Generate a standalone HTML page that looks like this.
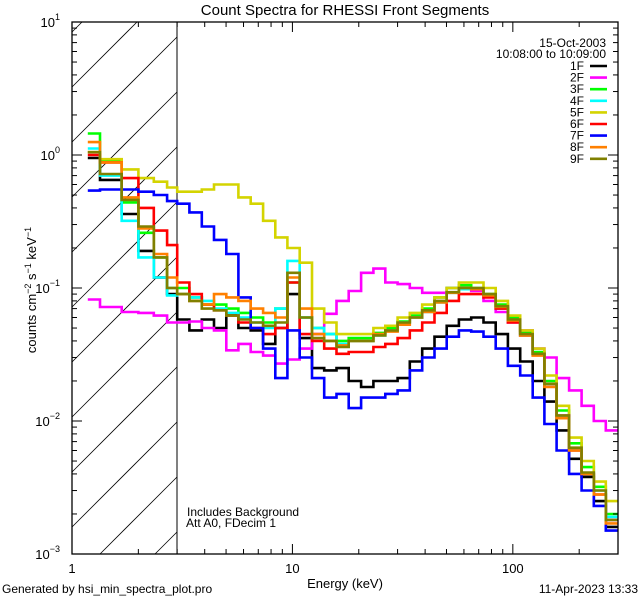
<!DOCTYPE html>
<html><head><meta charset="utf-8"><style>
html,body{margin:0;padding:0;background:#fff;width:640px;height:600px;overflow:hidden}
svg{display:block;position:absolute;left:0;top:0;font-family:"Liberation Sans",sans-serif}
</style></head><body>
<svg id="chart" width="640" height="600" viewBox="0 0 640 600">
<rect width="640" height="600" fill="#fff"/>
<defs><clipPath id="pclip"><rect x="72" y="22" width="546" height="532"/></clipPath></defs>
<g id="hatch"></g>
<line x1="177" y1="22" x2="177" y2="554" stroke="#000" stroke-width="1"/>
<g id="series" clip-path="url(#pclip)"></g>
<rect x="72" y="22" width="546" height="532" fill="none" stroke="#000" stroke-width="1.3"/>
<g id="axes"></g>
<text x="345" y="15" font-size="15" text-anchor="middle">Count Spectra for RHESSI Front Segments</text>
<text x="606" y="47" font-size="12" text-anchor="end">15-Oct-2003</text>
<text x="606" y="58" font-size="12" text-anchor="end">10:08:00 to 10:09:00</text>
<g id="legend"></g>
<text x="187" y="516" font-size="12">Includes Background</text>
<text x="186" y="527" font-size="12">Att A0, FDecim 1</text>
<text x="345" y="588" font-size="13" text-anchor="middle">Energy (keV)</text>
<text transform="translate(36,290) rotate(-90)" font-size="13" text-anchor="middle">counts cm<tspan font-size="9" dy="-5">−2</tspan><tspan dy="5"> s</tspan><tspan font-size="9" dy="-5">−1</tspan><tspan dy="5"> keV</tspan><tspan font-size="9" dy="-5">−1</tspan></text>
<text x="2" y="593" font-size="12">Generated by hsi_min_spectra_plot.pro</text>
<text x="638" y="593" font-size="12" text-anchor="end">11-Apr-2023 13:33</text>
</svg>
<script>
const edges=[1.18,1.34,1.68,2.0,2.35,2.7,3.0,3.41,3.88,4.41,5.01,5.69,6.47,7.36,8.36,9.49,10.79,12.27,13.94,15.85,18.0,20.5,23.3,26.4,30.0,34.1,38.8,44.1,50.1,56.9,64.7,73.6,83.6,95,108,123,139,158,180,205,233,264,300];
const seriesNames=["1F","2F","3F","4F","5F","6F","7F","8F","9F"];
const seriesColors=["#000000","#ff00ff","#00ff00","#00ffff","#d4d400","#ff0000","#0000ff","#ff8000","#808000"];
const s1F=[0.95,0.65,0.36,0.19,0.12,0.09,0.058,0.048,0.058,0.05,0.063,0.05,0.048,0.038,0.05,0.09,0.042,0.025,0.024,0.025,0.02,0.018,0.02,0.02,0.021,0.028,0.035,0.043,0.052,0.058,0.06,0.055,0.045,0.035,0.028,0.02,0.014,0.0085,0.0052,0.0038,0.0025,0.0016];
const s2F=[0.082,0.072,0.066,0.065,0.062,0.055,0.055,0.056,0.05,0.048,0.034,0.038,0.033,0.031,0.027,0.029,0.035,0.045,0.064,0.08,0.095,0.13,0.14,0.11,0.107,0.1,0.092,0.092,0.1,0.1,0.095,0.08,0.066,0.055,0.048,0.035,0.03,0.021,0.017,0.013,0.01,0.0085];
const s3F=[1.45,0.9,0.44,0.26,0.17,0.1,0.1,0.085,0.075,0.075,0.07,0.065,0.06,0.055,0.07,0.11,0.06,0.05,0.045,0.04,0.042,0.042,0.046,0.05,0.056,0.062,0.07,0.085,0.1,0.105,0.1,0.09,0.075,0.06,0.046,0.033,0.02,0.012,0.0068,0.0045,0.0032,0.002];
const s4F=[1.12,0.7,0.32,0.17,0.12,0.088,0.09,0.085,0.08,0.07,0.065,0.06,0.055,0.05,0.07,0.16,0.06,0.05,0.045,0.038,0.04,0.04,0.044,0.048,0.055,0.06,0.066,0.078,0.092,0.098,0.098,0.088,0.07,0.056,0.044,0.032,0.019,0.011,0.0062,0.004,0.003,0.0019];
const s5F=[1.05,0.93,0.78,0.67,0.63,0.57,0.53,0.53,0.55,0.6,0.6,0.48,0.43,0.32,0.24,0.2,0.155,0.07,0.055,0.045,0.045,0.045,0.05,0.052,0.06,0.065,0.075,0.085,0.1,0.11,0.11,0.1,0.08,0.062,0.048,0.035,0.022,0.013,0.0075,0.005,0.0035,0.0025];
const s6F=[1.0,0.88,0.67,0.4,0.27,0.21,0.11,0.09,0.075,0.068,0.062,0.055,0.05,0.045,0.05,0.11,0.045,0.04,0.035,0.032,0.033,0.033,0.036,0.038,0.042,0.048,0.055,0.065,0.08,0.09,0.09,0.085,0.07,0.055,0.044,0.032,0.019,0.011,0.006,0.004,0.0028,0.0018];
const s7F=[0.54,0.55,0.55,0.53,0.5,0.45,0.43,0.37,0.29,0.23,0.18,0.085,0.05,0.035,0.021,0.048,0.03,0.021,0.015,0.016,0.0125,0.015,0.015,0.016,0.017,0.024,0.03,0.035,0.043,0.048,0.047,0.043,0.035,0.026,0.022,0.015,0.0095,0.006,0.004,0.003,0.0023,0.0015];
const s8F=[1.25,0.88,0.48,0.28,0.18,0.12,0.09,0.08,0.075,0.09,0.085,0.08,0.07,0.065,0.06,0.12,0.07,0.045,0.04,0.037,0.04,0.04,0.045,0.047,0.053,0.06,0.066,0.078,0.092,0.1,0.098,0.088,0.072,0.057,0.044,0.031,0.018,0.0105,0.006,0.004,0.0028,0.0017];
const s9F=[1.05,0.72,0.46,0.29,0.17,0.1,0.09,0.08,0.07,0.068,0.062,0.058,0.055,0.052,0.055,0.13,0.06,0.042,0.04,0.036,0.04,0.04,0.044,0.048,0.055,0.06,0.068,0.08,0.093,0.1,0.1,0.09,0.073,0.058,0.045,0.032,0.019,0.011,0.0063,0.0041,0.003,0.0018];
const allSeries=[s1F,s2F,s3F,s4F,s5F,s6F,s7F,s8F,s9F];
const xDecades=[1,10,100];
const xTickLabels=["1","10","100"];
const yDecades=[-3,-2,-1,0,1];

const NS="http://www.w3.org/2000/svg";
const X0=72,X1=618,Y0=554,Y1=22,XH=177;
const xLo=0,xHi=Math.log10(300),yLo=-3,yHi=1;
function xs(e){return X0+(Math.log10(e)-xLo)/(xHi-xLo)*(X1-X0);}
function ys(v){return Y0-(Math.log10(v)-yLo)/(yHi-yLo)*(Y0-Y1);}
function mk(tag,attrs,parent){const el=document.createElementNS(NS,tag);for(const k in attrs)el.setAttribute(k,attrs[k]);parent.appendChild(el);return el;}

// hatch lines y = y0 - (x - X0), clipped to the hatched box
const hatch=document.getElementById('hatch');
for(let y0=87-55;y0<=Y0+(XH-X0)+55;y0+=55){
  let xa=X0, xb=XH;
  // y within [Y1,Y0]: x >= X0 + y0 - Y0 ; x <= X0 + y0 - Y1
  xa=Math.max(xa,X0+y0-Y0); xb=Math.min(xb,X0+y0-Y1);
  if(xb<=xa)continue;
  const l=mk('line',{x1:xa,y1:y0-(xa-X0),x2:xb,y2:y0-(xb-X0),stroke:'#000','stroke-width':0.8},hatch);
  
  
}

const axes=document.getElementById('axes');
for(let d=0;d<3;d++){
  for(let m=1;m<=9;m++){
    const e=xDecades[d]*m; if(e>300)break;
    const x=xs(e), len=m===1?10:5;
    const t1=mk('line',{x1:x,y1:Y0,x2:x,y2:Y0-len,stroke:'#000','stroke-width':1},axes);
    
    
    const t2=mk('line',{x1:x,y1:Y1,x2:x,y2:Y1+len,stroke:'#000','stroke-width':1},axes);
    
    
  }
  const lb=mk('text',{x:xs(xDecades[d]),y:573,'font-size':13,'text-anchor':'middle'},axes);
  lb.textContent=xTickLabels[d];
  
  
}
yDecades.forEach(p=>{
  for(let m=1;m<=9;m++){
    if(p===1&&m>1)break;
    const y=ys(m*Math.pow(10,p)), len=m===1?10:5;
    const t1=mk('line',{x1:X0,y1:y,x2:X0+len,y2:y,stroke:'#000','stroke-width':1},axes);
    
    
    const t2=mk('line',{x1:X1,y1:y,x2:X1-len,y2:y,stroke:'#000','stroke-width':1},axes);
    
    
  }
  const lb=mk('text',{x:60,y:ys(Math.pow(10,p))+5,'font-size':13,'text-anchor':'end'},axes);
  
  
  lb.textContent='10';
  const sp=mk('tspan',{'font-size':9,dy:-7},lb);
  sp.textContent=(p<0?'−':'')+Math.abs(p);
});

const sg=document.getElementById('series');
const lg=document.getElementById('legend');
allSeries.forEach((vals,i)=>{
  let pts=[];
  for(let k=0;k<vals.length;k++){
    const y=ys(vals[k]);
    pts.push(xs(edges[k]).toFixed(1)+','+y.toFixed(1));
    pts.push(xs(edges[k+1]).toFixed(1)+','+y.toFixed(1));
  }
  const pl=mk('polyline',{points:pts.join(' '),fill:'none',stroke:seriesColors[i],'stroke-width':2.6,'stroke-linejoin':'miter'},sg);
  
  
  const ly=66+i*11.6;
  const lt=mk('text',{x:584,y:ly+4,'font-size':12,'text-anchor':'end'},lg);
  lt.textContent=seriesNames[i];
  
  
  const ll=mk('line',{x1:590,y1:ly,x2:607,y2:ly,stroke:seriesColors[i],'stroke-width':2.6},lg);
  
  
});
</script>
</body></html>
